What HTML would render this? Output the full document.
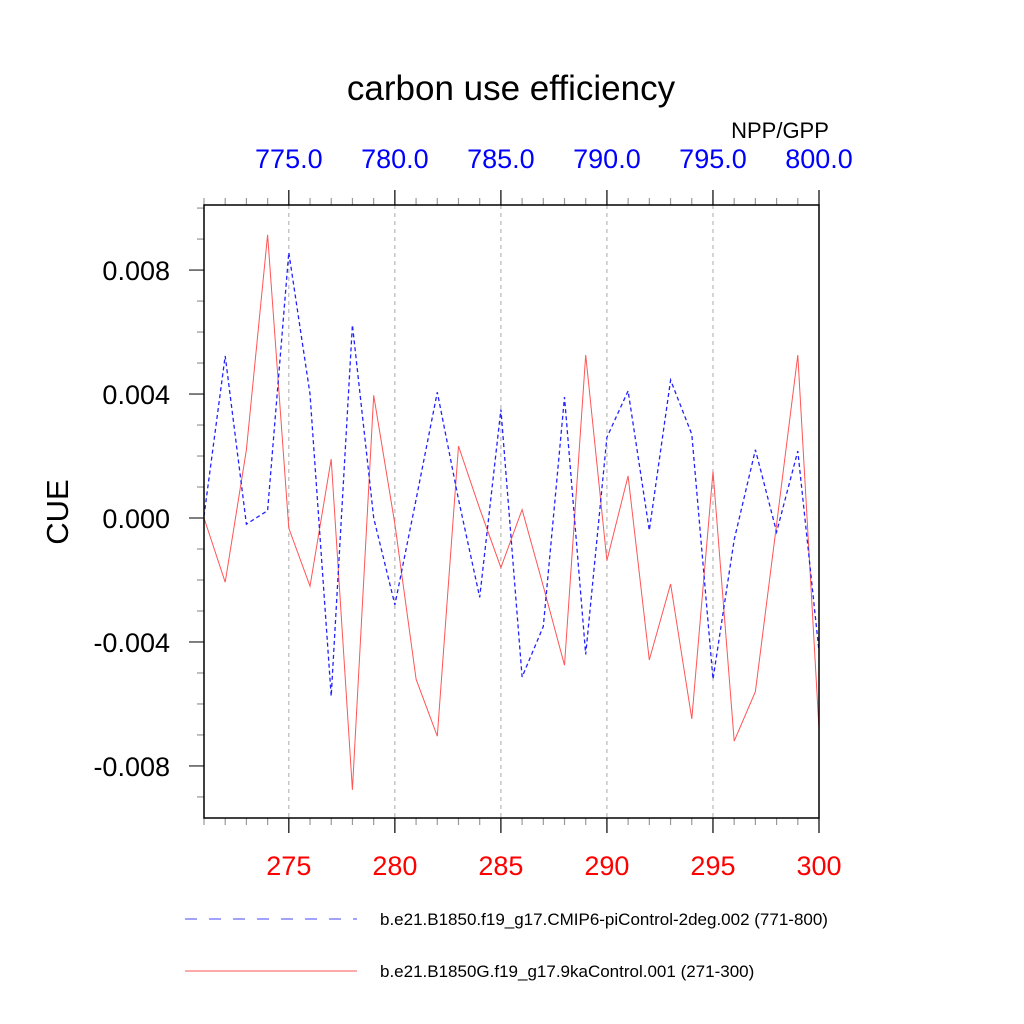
<!DOCTYPE html>
<html><head><meta charset="utf-8"><style>
html,body{margin:0;padding:0;background:#fff;}
svg{display:block;font-family:"Liberation Sans",Arial,sans-serif;}
</style></head><body>
<svg id="chart" width="1024" height="1024" viewBox="0 0 1024 1024">
<text x="511" y="100" text-anchor="middle" font-size="35">carbon use efficiency</text>
<text x="780" y="138" text-anchor="middle" font-size="22">NPP/GPP</text>
<text transform="translate(68,512) rotate(-90)" text-anchor="middle" font-size="31">CUE</text>
<g id="grid"></g>
<g id="ticks"></g>
<g id="series"></g>
<rect x="204" y="205" width="615" height="613" fill="none" stroke="#000" stroke-width="1.5"/>
<line x1="185" y1="919" x2="357" y2="919" stroke="#4444ff" stroke-width="1" stroke-dasharray="12,12"/>
<text x="380" y="925" font-size="17">b.e21.B1850.f19_g17.CMIP6-piControl-2deg.002 (771-800)</text>
<line x1="185" y1="971" x2="357" y2="971" stroke="#ff5555" stroke-width="1"/>
<text x="380" y="977" font-size="17">b.e21.B1850G.f19_g17.9kaControl.001 (271-300)</text>
</svg>
<script>
const years = [271,272,273,274,275,276,277,278,279,280,281,282,283,284,285,286,287,288,289,290,291,292,293,294,295,296,297,298,299,300];
const redValues = [0,-0.00207,0.0022,0.00914,-0.00033,-0.0022,0.0019,-0.00877,0.00396,-0.0002,-0.0052,-0.00704,0.00232,0.0003,-0.0016,0.00027,-0.0022,-0.00475,0.00526,-0.00137,0.00136,-0.00458,-0.00213,-0.00648,0.0015,-0.0072,-0.0056,-0.0002,0.00526,-0.0068];
const blueValues = [0.00006,0.00523,-0.0002,0.00024,0.00857,0.004,-0.00575,0.00623,0,-0.0028,0.0006,0.00406,0.0006,-0.00256,0.0035,-0.00513,-0.0035,0.0039,-0.0044,0.0026,0.0041,-0.0004,0.00445,0.0027,-0.0052,-0.0007,0.0022,-0.00045,0.00216,-0.0043];
const bottomTicks = [275,280,285,290,295,300];
const topTickLabels = ["775.0","780.0","785.0","790.0","795.0","800.0"];
const yTicks = [0.008,0.004,0,-0.004,-0.008];
const yTickLabels = ["0.008","0.004","0.000","-0.004","-0.008"];

const NS="http://www.w3.org/2000/svg";
const X0=204,X1=819,Y0=205,Y1=818;
const xMin=271,xMax=300,yMax=0.0101,yMin=-0.00968;
function xs(v){return X0+(v-xMin)/(xMax-xMin)*(X1-X0);}
function ys(v){return Y1-(v-yMin)/(yMax-yMin)*(Y1-Y0);}
function mk(tag,attrs,parent){const e=document.createElementNS(NS,tag);for(const k in attrs)e.setAttribute(k,attrs[k]);parent.appendChild(e);return e;}
const grid=document.getElementById('grid'),ticks=document.getElementById('ticks'),series=document.getElementById('series'),svg=document.getElementById('chart');

bottomTicks.forEach((t,i)=>{
  const x=xs(t);
  if(t<xMax){const g=mk('line',{x1:x,y1:Y0,x2:x,y2:Y1,stroke:'#aaa','stroke-width':1,'stroke-dasharray':'4,4'},grid);
  
  }
  const lb=mk('text',{x:x,y:875,'text-anchor':'middle','font-size':27,fill:'#ff0000'},svg);
  lb.textContent=t;
  
  
  const lt=mk('text',{x:x,y:168,'text-anchor':'middle','font-size':27,fill:'#0000ff'},svg);
  lt.textContent=topTickLabels[i];
  
  
});
for(let yr=xMin;yr<=xMax;yr++){
  const x=xs(yr),major=bottomTicks.includes(yr);const L=major?15:7;
  const a=mk('line',{x1:x,y1:Y0,x2:x,y2:Y0-L,stroke:major?'#000':'#999','stroke-width':1.2},ticks);
  
  
  const b=mk('line',{x1:x,y1:Y1,x2:x,y2:Y1+L,stroke:major?'#000':'#999','stroke-width':1.2},ticks);
  
  
}
for(let k=-9;k<=10;k++){
  const v=k*0.001,y=ys(v),major=(k%4===0);const L=major?15:7;
  const t=mk('line',{x1:X0,y1:y,x2:X0-L,y2:y,stroke:major?'#555':'#aaa','stroke-width':1.5},ticks);
  
  
}
yTicks.forEach((v,i)=>{
  const t=mk('text',{x:170,y:ys(v)+10,'text-anchor':'end','font-size':27},svg);
  t.textContent=yTickLabels[i];
  
  
});
function pts(vals){return vals.map((v,i)=>xs(years[i]).toFixed(1)+','+ys(v).toFixed(1)).join(' ');}
const red=mk('polyline',{points:pts(redValues),fill:'none',stroke:'#ff5555','stroke-width':1},series);


const blue=mk('polyline',{points:pts(blueValues),fill:'none',stroke:'#2222ff','stroke-width':1.3,'stroke-dasharray':'4,3'},series);


</script>
</body></html>
